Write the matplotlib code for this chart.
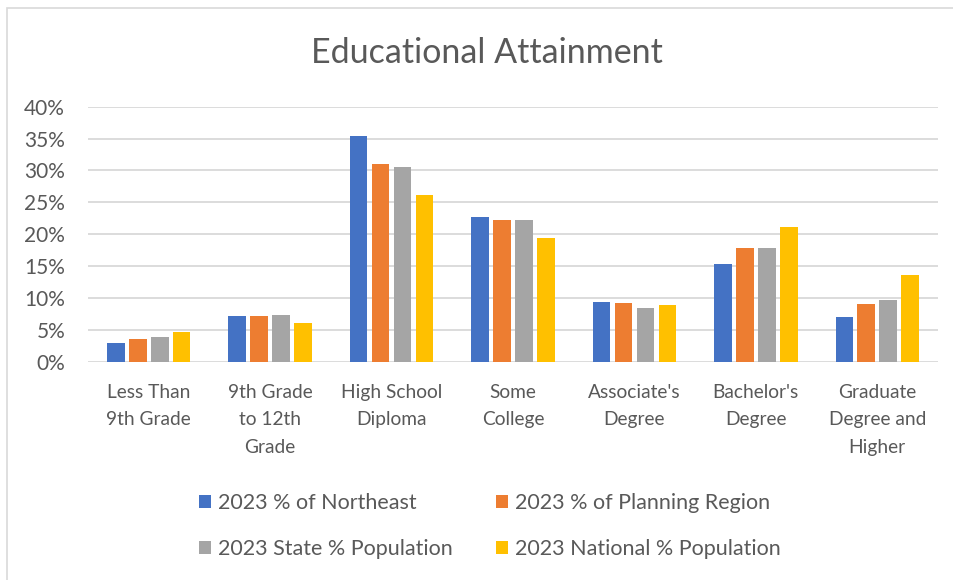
import matplotlib.pyplot as plt
import numpy as np
from matplotlib.patches import Rectangle

categories = ["Less Than\n9th Grade", "9th Grade\nto 12th\nGrade", "High School\nDiploma",
              "Some\nCollege", "Associate's\nDegree", "Bachelor's\nDegree",
              "Graduate\nDegree and\nHigher"]
series_names = ["2023 % of Northeast", "2023 % of Planning Region",
                "2023 State % Population", "2023 National % Population"]
northeast = [2.9, 7.2, 35.4, 22.7, 9.35, 15.3, 7.0]
planning_region = [3.6, 7.15, 30.95, 22.3, 9.15, 17.8, 9.05]
state = [3.8, 7.3, 30.6, 22.2, 8.35, 17.8, 9.6]
national = [4.7, 6.0, 26.1, 19.45, 8.85, 21.1, 13.6]
colors = ["#4472C4", "#ED7D31", "#A5A5A5", "#FFC000"]

plt.rcParams['font.family'] = ['Lato', 'DejaVu Sans']
text_color = "#595959"

fig = plt.figure(figsize=(9.54, 5.8), dpi=100)
W, H = 954, 580
ax = fig.add_axes([88 / W, 1 - 361.7 / H, 850 / W, 255 / H])

# chart border
fig.patches.append(Rectangle((7 / W, -0.01), 1.0, 1 - 8 / H + 0.01, transform=fig.transFigure,
                             fill=False, edgecolor="#D9D9D9", linewidth=1.2))

x = np.arange(len(categories))
step = 0.181
data = [northeast, planning_region, state, national]
bars = []
for i, (vals, name, c) in enumerate(zip(data, series_names, colors)):
    b = ax.bar(x + (i - 1.5) * step, vals, width=0.145, color=c, label=name, zorder=3)
    bars.append(b)

ax.set_xlim(-0.5, len(categories) - 0.5)
ax.set_ylim(0, 40)
ax.set_yticks(range(0, 41, 5))
ax.set_yticklabels([f"{v}%" for v in range(0, 41, 5)])
ax.set_xticks(x)
ax.set_xticklabels(categories, linespacing=1.75)
ax.grid(axis='y', color="#D9D9D9", linewidth=1.3, zorder=0)
for s in ax.spines.values():
    s.set_visible(False)
ax.tick_params(axis='both', length=0, colors=text_color)
ax.tick_params(axis='x', pad=16, labelsize=13.8)
ax.tick_params(axis='y', pad=16.5, labelsize=15)

fig.text(487 / W, 1 - 53 / H, "Educational Attainment", ha='center', va='center',
         fontsize=24.5, color=text_color)

# legend filled row-wise like the original
order = [0, 2, 1, 3]
leg = fig.legend([bars[i] for i in order], [series_names[i] for i in order],
                 loc='center', bbox_to_anchor=(490 / W, 1 - 526 / H), ncol=2,
                 frameon=False, fontsize=15.5, handlelength=0.55, handleheight=0.55,
                 handletextpad=0.32, columnspacing=2.0, labelspacing=1.2)
for t in leg.get_texts():
    t.set_color(text_color)

fig.savefig("out.png", dpi=100)
